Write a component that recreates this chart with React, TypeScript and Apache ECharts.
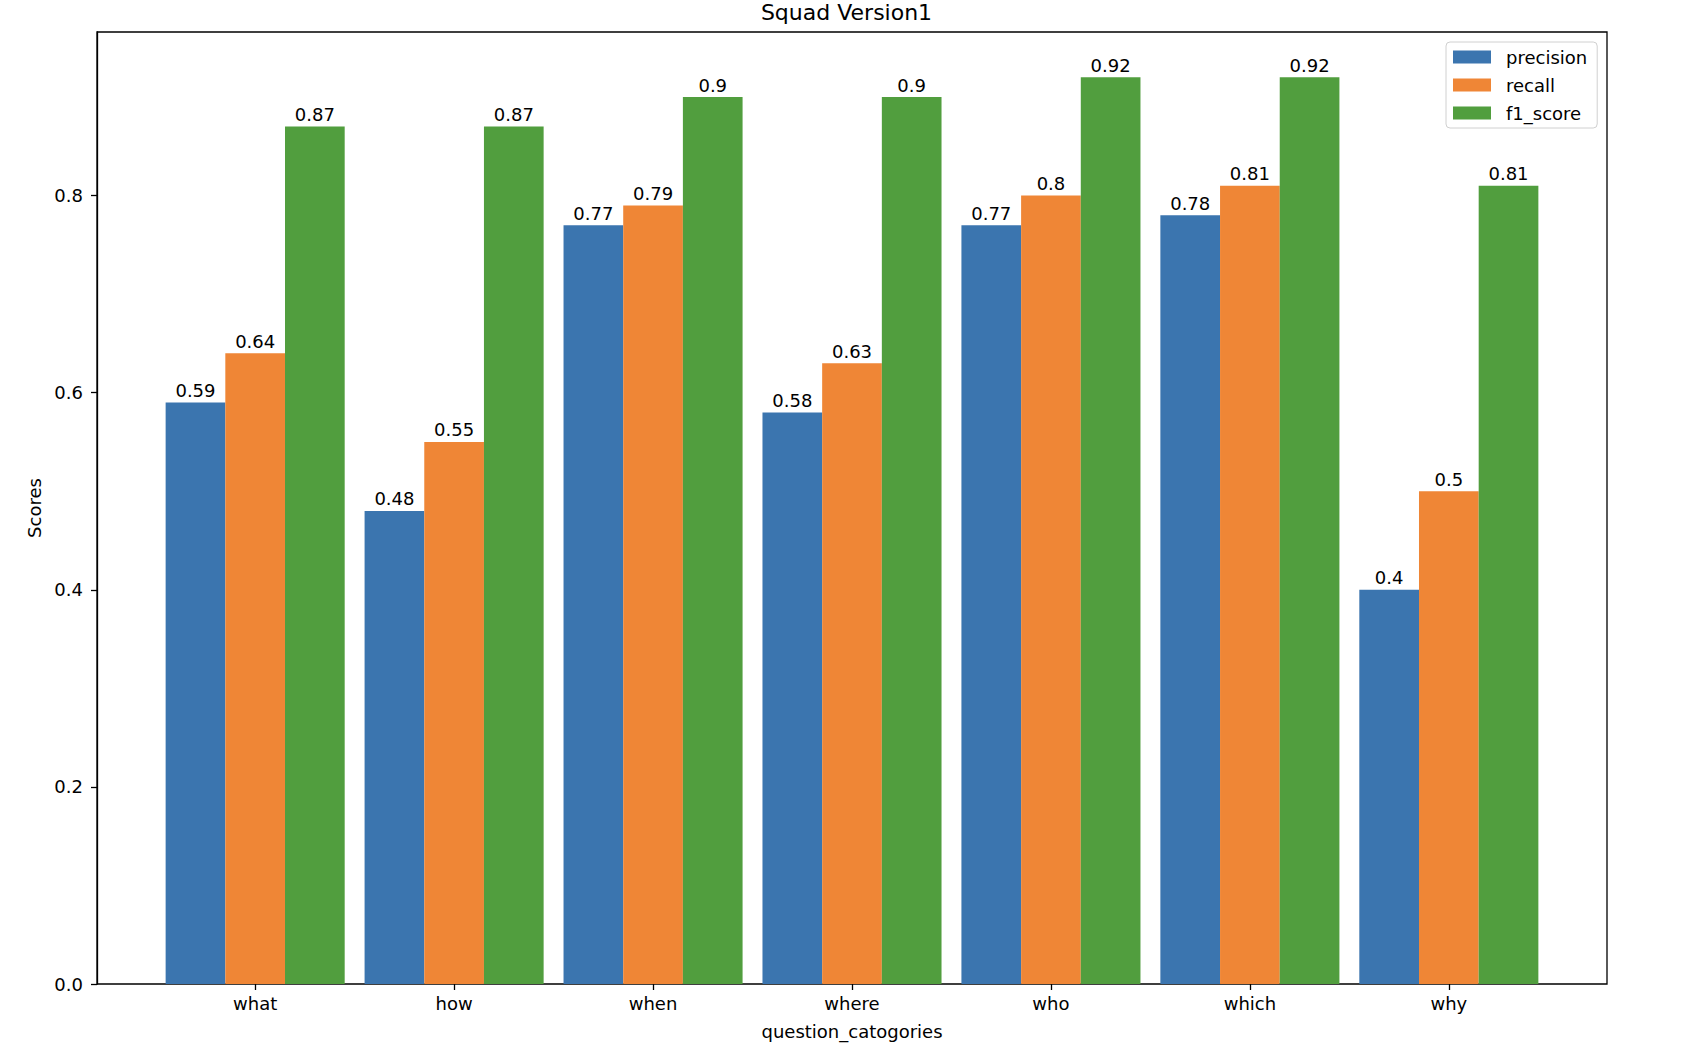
import React, { useEffect, useRef } from "react";
import * as echarts from "echarts";

const categories = ["what", "how", "when", "where", "who", "which", "why"];
const precision = [0.59, 0.48, 0.77, 0.58, 0.77, 0.78, 0.4];
const recall = [0.64, 0.55, 0.79, 0.63, 0.8, 0.81, 0.5];
const f1Score = [0.87, 0.87, 0.9, 0.9, 0.92, 0.92, 0.81];
const seriesNames = ["precision", "recall", "f1_score"];
const seriesColors = ["#3b75af", "#ef8636", "#519e3e"];
const yTicks = [0, 0.2, 0.4, 0.6, 0.8];

const FONT = "DejaVu Sans, sans-serif";
const Y_MAX = 0.966;

export default function App() {
  const ref = useRef<HTMLDivElement>(null);

  useEffect(() => {
    if (!ref.current) return;
    const chart = echarts.init(ref.current, undefined, { renderer: "svg" });
    const values = [precision, recall, f1Score];

    const plotLeft = 97;
    const plotTop = 32;
    const plotWidth = 1510;
    const plotHeight = 952;
    // x-range in data units: [-0.795, 6.795]
    const unit = plotWidth / 7.59;
    const innerLeft = plotLeft + 0.295 * unit;
    const innerWidth = 7 * unit;

    chart.setOption({
      animation: false,
      backgroundColor: "#ffffff",
      textStyle: { fontFamily: FONT },
      title: {
        text: "Squad Version1",
        left: "center",
        top: 1,
        padding: 0,
        textStyle: { fontFamily: FONT, fontSize: 22, fontWeight: "normal", color: "#000" },
      },
      legend: {
        orient: "vertical",
        left: 1446,
        top: 42,
        data: seriesNames,
        icon: "rect",
        itemWidth: 38,
        itemHeight: 13,
        itemGap: 10,
        padding: [6, 10, 6, 7],
        backgroundColor: "#ffffff",
        borderColor: "#d0d0d0",
        borderWidth: 1,
        borderRadius: 4,
        textStyle: {
          fontFamily: FONT,
          fontSize: 18,
          lineHeight: 18,
          color: "#000",
          padding: [0, 0, 0, 10],
        },
      },
      grid: [
        {
          left: plotLeft,
          top: plotTop,
          width: plotWidth,
          height: plotHeight,
          show: true,
          borderColor: "#000",
          borderWidth: 1.3,
          backgroundColor: "transparent",
        },
        {
          left: innerLeft,
          top: plotTop,
          width: innerWidth,
          height: plotHeight,
        },
      ],
      xAxis: [
        {
          gridIndex: 0,
          type: "value",
          min: 0,
          max: 1,
          show: false,
        },
        {
          gridIndex: 1,
          type: "category",
          data: categories,
          boundaryGap: true,
          axisLine: { show: false },
          axisTick: {
            show: true,
            alignWithLabel: true,
            length: 6,
            lineStyle: { color: "#000", width: 1.3 },
          },
          axisLabel: {
            margin: 10,
            fontFamily: FONT,
            fontSize: 18,
            color: "#000",
          },
          name: "question_catogories",
          nameLocation: "middle",
          nameGap: 38,
          nameTextStyle: { fontFamily: FONT, fontSize: 18, color: "#000" },
          splitLine: { show: false },
        },
      ],
      yAxis: [
        {
          gridIndex: 0,
          type: "value",
          min: 0,
          max: Y_MAX,
          interval: 0.2,
          axisLine: { show: true, lineStyle: { color: "#000", width: 1.3 } },
          axisTick: { show: true, length: 6, lineStyle: { color: "#000", width: 1.3 } },
          axisLabel: {
            margin: 14,
            fontFamily: FONT,
            fontSize: 18,
            color: "#000",
            showMaxLabel: false,
            formatter: (v: number) => (yTicks.some((t) => Math.abs(t - v) < 1e-9) ? v.toFixed(1) : ""),
          },
          splitLine: { show: false },
          name: "Scores",
          nameLocation: "middle",
          nameGap: 51,
          nameTextStyle: { fontFamily: FONT, fontSize: 18, color: "#000" },
        },
        {
          gridIndex: 1,
          type: "value",
          min: 0,
          max: Y_MAX,
          show: false,
          splitLine: { show: false },
        },
      ],
      series: seriesNames.map((name, i) => ({
        name,
        type: "bar",
        xAxisIndex: 1,
        yAxisIndex: 1,
        data: values[i],
        barWidth: "30%",
        barGap: "0%",
        itemStyle: { color: seriesColors[i] },
        label: {
          show: true,
          position: "top",
          distance: 3,
          fontFamily: FONT,
          fontSize: 18,
          color: "#000",
          formatter: (p: any) => String(p.value),
        },
      })),
    });

    return () => chart.dispose();
  }, []);

  return (
    <div
      ref={ref}
      style={{ position: "fixed", left: 0, top: 0, width: 1693, height: 1045 }}
    />
  );
}
